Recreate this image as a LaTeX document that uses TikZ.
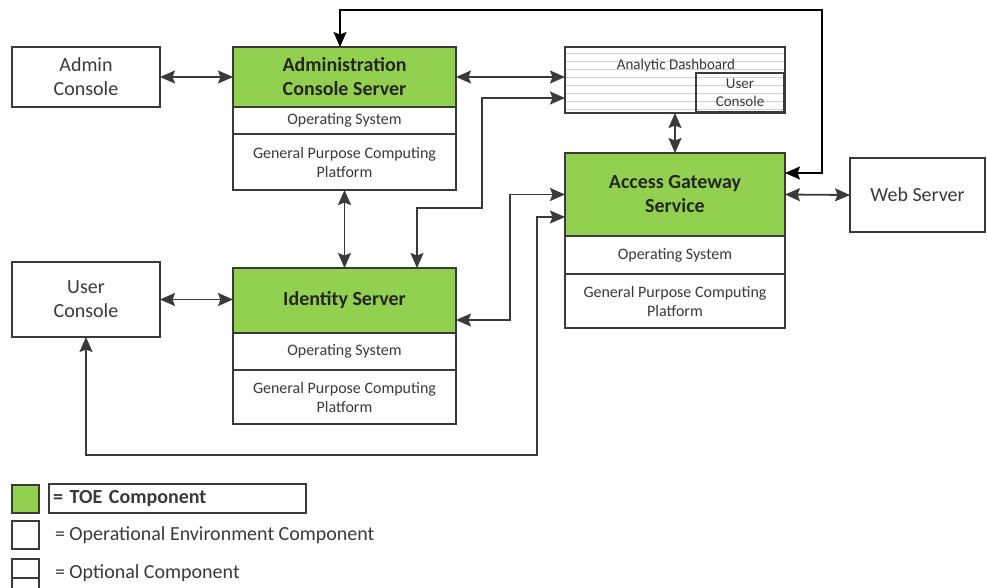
\documentclass[tikz,border=0pt]{standalone}
\usepackage{fontspec}
\setmainfont{Carlito}
\usetikzlibrary{positioning,arrows.meta}
\definecolor{toegreen}{HTML}{92D050}
\definecolor{inkgray}{HTML}{3A3A3A}
\definecolor{stripegray}{HTML}{CFCFD8}

\begin{document}
\begin{tikzpicture}[x=1pt, y=-1pt, color=inkgray, line width=1.2pt,
	every node/.style={inner sep=0pt, outer sep=0pt},
	env node/.style={draw, fill=white, minimum width=148pt, align=center,
		font=\fontsize{20}{24}\selectfont},
	toe node/.style={draw, fill=toegreen, minimum width=223pt, align=center,
		text=black!85, font=\bfseries\fontsize{20}{24}\selectfont},
	band node/.style={draw, fill=white, minimum width=223pt, align=center,
		font=\fontsize{16}{19}\selectfont},
	link/.style={line width=1.8pt, {Stealth[length=15pt,width=13pt,inset=2.5pt]}-{Stealth[length=15pt,width=13pt,inset=2.5pt]}}]
	
	\useasboundingbox (0,0) rectangle (987,587);
	
	% consoles and servers
	\node[env node, minimum height=60pt] (admincon) at (86,77) {Admin\\Console};
	\node[toe node, minimum height=60pt] (acs) at (344.5,77) {Administration\\Console Server};
	\node[band node, minimum height=27pt, below=0pt of acs] (acsos) {Operating System};
	\node[band node, minimum height=56pt, below=0pt of acsos] (acsgp) {General Purpose Computing\\Platform};
	
	\node[env node, minimum height=75pt] (usercon) at (86,299.5) {User\\Console};
	\node[toe node, minimum height=65pt] (ids) at (344.5,300.5) {Identity Server};
	\node[band node, minimum height=37pt, below=0pt of ids] (idsos) {Operating System};
	\node[band node, minimum height=54pt, below=0pt of idsos] (idsgp) {General Purpose Computing\\Platform};
	
	\node[toe node, minimum width=220pt, minimum height=83pt] (ags) at (675,194.5) {Access Gateway\\Service};
	\node[band node, minimum width=220pt, minimum height=38pt, below=0pt of ags] (agsos) {Operating System};
	\node[band node, minimum width=220pt, minimum height=54pt, below=0pt of agsos] (agsgp) {General Purpose Computing\\Platform};
	
	\node[env node, minimum width=135pt, minimum height=74pt] (web) at (917.5,195) {Web Server};
	
	% optional dashboard
	\node[draw, fill=white, minimum width=220pt, minimum height=66pt] (dash) at (675,80) {};
	\foreach \y in {53,61,...,109}
	\draw[stripegray, line width=0.7pt] (566,\y) -- (784,\y);
	\node[font=\fontsize{15}{18}\selectfont] (dashtitle) at (676,65) {Analytic Dashboard};
	\node[draw, minimum width=88pt, minimum height=39pt, align=center,
		font=\fontsize{15}{18}\selectfont] (dashuser) at (740,92.5) {User\\Console};
	
	\coordinate (dashbend) at (482,208);
	\coordinate (idbend) at (510,194.5);
	\coordinate (ucbend) at (537,455);
	\coordinate (topbend) at (822,10);
	
	\draw[link] (admincon.east) -- (acs.west);
	\draw[link] (acs.east) -- (acs.east -| dash.west);
	\draw[link] ([xshift=72.5pt]ids.north) |- (dashbend) |- ([yshift=-18pt]dash.west);
	\draw[link] (dash.south) -- (ags.north);
	\draw[link] (acsgp.south) -- (ids.north);
	\draw[link] (usercon.east) -- (usercon.east -| ids.west);
	\draw[link] ([yshift=-19.5pt]ids.east) -| (idbend) -- (ags.west);
	\draw[link] (usercon.south) |- (ucbend) |- ([yshift=-22.5pt]ags.west);
	\draw[link, black] ([xshift=-4.5pt]acs.north) |- (topbend) |- ([yshift=21.5pt]ags.east);
	\draw[link] (ags.east) -- (web.west);
	
	% key
	\node[draw, fill=toegreen, minimum width=27pt, minimum height=28pt] (keytoe) at (25.5,499) {};
	\node[draw, anchor=west, minimum height=29pt, inner xsep=4pt, text width=249pt, align=left,
		font=\bfseries\fontsize{20}{24}\selectfont] (keytoetext) at (49,498.5) {= TOE Component};
	\node[draw, fill=white, minimum width=27pt, minimum height=28pt] (keyenv) at (25.5,535) {};
	\node[anchor=west, font=\fontsize{20}{24}\selectfont] (keyenvtext) at (55,535) {= Operational Environment Component};
	\node[draw, anchor=north west, minimum width=27pt, minimum height=32pt] (keyopt) at (12,559) {};
	\draw ([yshift=-19pt]keyopt.north west) -- ([yshift=-19pt]keyopt.north east);
	\node[anchor=west, font=\fontsize{20}{24}\selectfont] (keyopttext) at (55,573) {= Optional Component};
\end{tikzpicture}
\end{document}
